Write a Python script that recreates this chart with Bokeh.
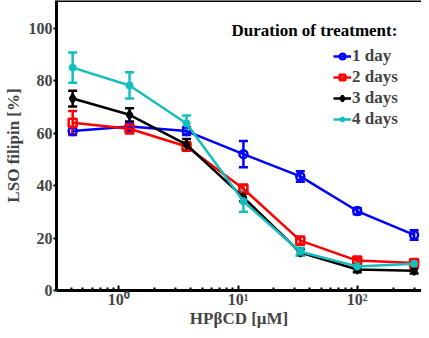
from bokeh.plotting import figure
from bokeh.models import (Range1d, Whisker, TeeHead, ColumnDataSource, Legend, LegendItem,
                          Span, Label, FixedTicker)
from bokeh.embed import file_html
from bokeh.resources import INLINE

conc = [0.41, 1.23, 3.7, 11.1, 33.3, 100, 300]
day1 = [60.8, 62.5, 60.8, 52.0, 43.5, 30.3, 21.2]
day1_err = [1.5, 1.5, 1.5, 5.0, 2.0, 1.2, 1.8]
day2 = [64.0, 61.7, 54.9, 38.8, 19.0, 11.4, 10.5]
day2_err = [4.5, 1.8, 1.5, 1.5, 1.5, 1.0, 1.0]
day3 = [73.2, 67.0, 55.6, 35.5, 14.5, 8.0, 7.5]
day3_err = [3.0, 2.5, 2.2, 1.5, 1.2, 1.0, 1.0]
day4 = [85.0, 78.2, 63.7, 34.0, 14.8, 9.2, 10.2]
day4_err = [5.8, 5.0, 3.0, 4.0, 1.5, 1.0, 1.0]
labels = ["1 day", "2 days", "3 days", "4 days"]
colors = ["#0000FF", "#FF0000", "#000000", "#14BEBE"]
markers = ["circle", "square", "diamond", "asterisk"]
yticks = [0, 20, 40, 60, 80, 100]

FONT = "Liberation Serif"

p = figure(width=421, height=330, x_axis_type="log", output_backend="svg",
           toolbar_location=None, x_range=Range1d(0.3, 346), y_range=Range1d(0, 110.6),
           min_border_left=50, min_border_right=0, min_border_top=0, min_border_bottom=0)
p.background_fill_color = "white"
p.border_fill_color = "white"
p.outline_line_color = None
p.xgrid.visible = False
p.ygrid.visible = False

items = []
for vals, errs, lab, col, mk in zip([day1, day2, day3, day4],
                                    [day1_err, day2_err, day3_err, day4_err],
                                    labels, colors, markers):
    src = ColumnDataSource(dict(x=conc, y=vals,
                                lo=[v - e for v, e in zip(vals, errs)],
                                hi=[v + e for v, e in zip(vals, errs)]))
    w = Whisker(source=src, base="x", lower="lo", upper="hi", line_color=col, line_width=2.5,
                upper_head=TeeHead(size=9, line_color=col, line_width=2.5),
                lower_head=TeeHead(size=9, line_color=col, line_width=2.5))
    p.add_layout(w)
    r1 = p.line("x", "y", source=src, line_color=col, line_width=2.5)
    r2 = p.scatter("x", "y", source=src, marker=mk, size=8, line_color=col, line_width=2.5,
                   fill_color=None)
    items.append(LegendItem(label=lab, renderers=[r1, r2]))

legend = Legend(items=items, location=(277, 161), background_fill_alpha=0,
                border_line_color=None, margin=0,
                label_text_font=FONT, label_text_font_style="bold", label_text_font_size="17px",
                glyph_width=18, glyph_height=14, label_standoff=1, spacing=1, padding=0,
                label_height=16)
p.add_layout(legend)

p.add_layout(Label(x=175, y=251, x_units="screen", y_units="screen",
                   text="Duration of treatment:", text_font=FONT, text_font_style="bold",
                   text_font_size="17px", text_color="black"))

# axes styling
xa = p.xaxis[0]
xa.axis_line_width = 3
xa.major_tick_in = 5
xa.major_tick_out = 0
xa.minor_tick_in = 3
xa.minor_tick_out = 0
xa.major_tick_line_width = 2
xa.minor_tick_line_width = 2
xa.ticker = FixedTicker(ticks=[1, 10, 100],
                        minor_ticks=[0.3, 0.4, 0.5, 0.6, 0.7, 0.8, 0.9, 2, 3, 4, 5, 6, 7, 8, 9,
                                     20, 30, 40, 50, 60, 70, 80, 90, 200, 300])
xa.major_label_overrides = {1: "10\u2070", 10: "10\u00b9", 100: "10\u00b2"}
xa.major_label_text_font = FONT
xa.major_label_text_font_style = "bold"
xa.major_label_text_font_size = "16px"
xa.major_label_standoff = 0
xa.axis_label = "HP\u03b2CD [\u03bcM]"
xa.axis_label_text_font = FONT
xa.axis_label_text_font_style = "bold"
xa.axis_label_text_font_size = "17px"
xa.axis_label_standoff = -2

ya = p.yaxis[0]
ya.axis_line_width = 3
ya.ticker = FixedTicker(ticks=yticks, minor_ticks=[])
ya.major_tick_in = 0
ya.major_tick_out = 3
ya.major_tick_line_width = 2
ya.major_label_text_font = FONT
ya.major_label_text_font_style = "bold"
ya.major_label_text_font_size = "16px"
ya.major_label_standoff = 1
ya.axis_label = "LSO filipin [%]"
ya.axis_label_text_font = FONT
ya.axis_label_text_font_style = "bold"
ya.axis_label_text_font_size = "17px"
ya.axis_label_standoff = 3

# top border line
p.add_layout(Span(location=110.6, dimension="width", line_color="black", line_width=3))

html = file_html(p, INLINE)
open("out.html", "w").write(html)
